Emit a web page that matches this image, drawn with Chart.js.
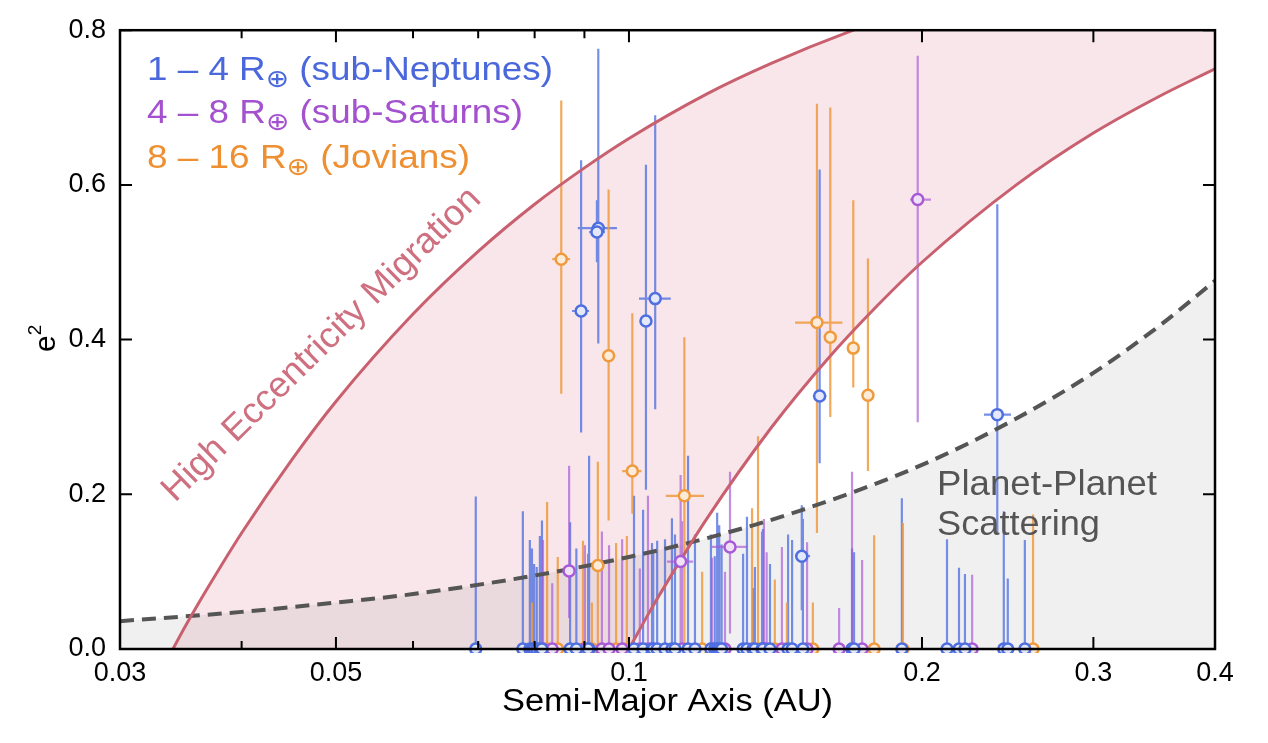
<!DOCTYPE html>
<html>
<head>
<meta charset="utf-8">
<script src="https://cdn.jsdelivr.net/npm/chart.js@4.4.1/dist/chart.umd.min.js"></script>
<style>
html, body { margin: 0; padding: 0; background: #fff; }
#wrap { width: 1268px; height: 743px; }
</style>
</head>
<body>
<div id="wrap"><canvas id="eccChart"></canvas></div>
<script>
// axis ticks
var xTickValues = [0.03, 0.04, 0.05, 0.06, 0.07, 0.08, 0.09, 0.1, 0.2, 0.3, 0.4];
var xTickLabels = ['0.03', '', '0.05', '', '', '', '', '0.1', '0.2', '0.3', '0.4'];
var yTickValues = [0, 0.2, 0.4, 0.6, 0.8];

// measured planets: [a, e2, e2 low, e2 high, a low, a high]
var subNeptunes = [
    [0.0893, 0.437, 0.280, 0.632, 0.0874, 0.0910],
    [0.0930, 0.544, 0.395, 0.776, 0.0886, 0.0972],
    [0.0927, 0.539, 0.500, 0.580, 0.0910, 0.0945],
    [0.1041, 0.424, 0.206, 0.626, 0.1030, 0.1052],
    [0.1064, 0.453, 0.310, 0.690, 0.1024, 0.1104],
    [0.1570, 0.327, 0.240, 0.620, 0.1545, 0.1595],
    [0.2390, 0.303, 0.150, 0.575, 0.2316, 0.2469],
    [0.1505, 0.120, 0.050, 0.186, 0.1481, 0.1535]
];
var subSaturns = [
    [0.1980, 0.581, 0.293, 0.767, 0.1944, 0.2043],
    [0.1270, 0.132, 0.020, 0.229, 0.1217, 0.1322],
    [0.1130, 0.113, 0.000, 0.225, 0.1094, 0.1164],
    [0.0868, 0.101, 0.040, 0.237, 0.0855, 0.0880]
];
var jovians = [
    [0.0852, 0.504, 0.330, 0.709, 0.0834, 0.0870],
    [0.0953, 0.379, 0.166, 0.594, 0.0940, 0.0966],
    [0.1008, 0.230, 0.175, 0.434, 0.0984, 0.1030],
    [0.1140, 0.198, 0.000, 0.403, 0.1091, 0.1194],
    [0.0929, 0.108, 0.000, 0.242, 0.0915, 0.0943],
    [0.1560, 0.422, 0.150, 0.705, 0.1481, 0.1657],
    [0.1610, 0.403, 0.300, 0.700, 0.1595, 0.1625],
    [0.1700, 0.389, 0.338, 0.580, 0.1685, 0.1715],
    [0.1760, 0.328, 0.230, 0.505, 0.1745, 0.1775]
];

// e2 consistent with zero: [a, e2 upper]
var subNeptuneLimits = [
    [0.0696, 0.197], [0.0778, 0.178], [0.0791, 0.141], [0.0795, 0.130], [0.0799, 0.110],
    [0.0804, 0.106], [0.0810, 0.146], [0.0814, 0.166], [0.0870, 0.164], [0.0883, 0.130],
    [0.0910, 0.250], [0.0908, 0.123], [0.1012, 0.198], [0.1034, 0.180], [0.1056, 0.137],
    [0.1059, 0.126], [0.1069, 0.140], [0.1089, 0.142], [0.1107, 0.169], [0.1115, 0.148],
    [0.1150, 0.250], [0.1169, 0.148], [0.1214, 0.148], [0.1225, 0.120], [0.1232, 0.176],
    [0.1238, 0.160], [0.1245, 0.135], [0.1310, 0.123], [0.1322, 0.171], [0.1341, 0.079],
    [0.1347, 0.106], [0.1370, 0.152], [0.1373, 0.155], [0.1396, 0.110], [0.1457, 0.148],
    [0.1471, 0.141], [0.1509, 0.168], [0.1695, 0.130], [0.1703, 0.125], [0.1907, 0.195],
    [0.2122, 0.142], [0.2183, 0.105], [0.2214, 0.097], [0.2427, 0.178], [0.2450, 0.091],
    [0.2551, 0.141]
];
var subSaturnLimits = [
    [0.0816, 0.141], [0.0834, 0.085], [0.0901, 0.134], [0.0938, 0.152], [0.0954, 0.134],
    [0.0984, 0.142], [0.1026, 0.104], [0.1046, 0.198], [0.1134, 0.165], [0.1217, 0.118],
    [0.1255, 0.100], [0.1376, 0.168], [0.1385, 0.125], [0.1436, 0.132], [0.1524, 0.138],
    [0.1644, 0.053], [0.1695, 0.229], [0.1736, 0.115], [0.2252, 0.096]
];
var jovianLimits = [
    [0.0795, 0.060], [0.0824, 0.190], [0.0845, 0.119], [0.0897, 0.140], [0.0916, 0.060],
    [0.0970, 0.137], [0.0995, 0.146], [0.1189, 0.100], [0.1338, 0.182], [0.1357, 0.275],
    [0.1412, 0.090], [0.1453, 0.060], [0.1545, 0.060], [0.1786, 0.147], [0.1912, 0.163],
    [0.2601, 0.174]
];

// boundary curves
var hemUpperA = [0.034, 0.035, 0.037, 0.04, 0.045, 0.05, 0.06, 0.07, 0.08, 0.09, 0.1, 0.12, 0.14, 0.17, 0.2, 0.3, 0.4];
var hemUpperE2 = [0, 0.029, 0.081, 0.15, 0.244, 0.32, 0.433, 0.514, 0.575, 0.622, 0.66, 0.717, 0.757, 0.80, 0.83, 0.887, 0.915];
var hemLowerA = [0.1, 0.105, 0.11, 0.12, 0.14, 0.16, 0.18, 0.2, 0.25, 0.3, 0.35, 0.4];
var hemLowerE2 = [0, 0.048, 0.091, 0.167, 0.286, 0.375, 0.444, 0.5, 0.6, 0.667, 0.714, 0.75];
var ppsA = [0.03, 0.04, 0.05, 0.06, 0.08, 0.1, 0.12, 0.15, 0.2, 0.25, 0.3, 0.35, 0.4];
var ppsE2 = [0.036, 0.048, 0.06, 0.071, 0.095, 0.119, 0.143, 0.179, 0.238, 0.298, 0.357, 0.417, 0.476];

var FONT = '"Liberation Sans", "DejaVu Sans", Arial, sans-serif';
var series = [
    { det: subNeptunes, lim: subNeptuneLimits, line: '#4f6fe0', fill: '#e3e8fb', bar: 'rgba(79,111,224,0.78)' },
    { det: subSaturns, lim: subSaturnLimits, line: '#a85ad6', fill: '#efe2f7', bar: 'rgba(168,90,214,0.68)' },
    { det: jovians, lim: jovianLimits, line: '#f09a3e', fill: '#fcebd8', bar: 'rgba(240,154,62,0.85)' }
];

function toXY(xs, ys) {
    return xs.map(function (v, i) { return { x: v, y: ys[i] }; });
}

function traceCurve(ctx, pts, reverse, move) {
    var list = reverse ? pts.slice().reverse() : pts;
    if (move) ctx.moveTo(list[0].x, list[0].y); else ctx.lineTo(list[0].x, list[0].y);
    for (var i = 1; i < list.length; i++) {
        var p = list[i - 1], t = list[i];
        if (!reverse) ctx.bezierCurveTo(p.cp2x, p.cp2y, t.cp1x, t.cp1y, t.x, t.y);
        else ctx.bezierCurveTo(p.cp1x, p.cp1y, t.cp2x, t.cp2y, t.x, t.y);
    }
}

// text runs: [text, size, dy]; optional total width
function drawRuns(ctx, runs, x, y, width) {
    var total = 0;
    runs.forEach(function (r) {
        ctx.font = r[1] + 'px ' + FONT;
        r.w = ctx.measureText(r[0]).width;
        total += r.w;
    });
    ctx.save();
    ctx.translate(x, y);
    if (width) ctx.scale(width / total, 1);
    var cx = 0;
    runs.forEach(function (r) {
        ctx.font = r[1] + 'px ' + FONT;
        ctx.fillText(r[0], cx, r[2]);
        cx += r.w;
    });
    ctx.restore();
}

var regionsPlugin = {
    id: 'regions',
    beforeDatasetsDraw: function (chart) {
        var ctx = chart.ctx, area = chart.chartArea;
        var xs = chart.scales.x, ys = chart.scales.y;
        var up = chart.getDatasetMeta(3).dataset;
        var lo = chart.getDatasetMeta(4).dataset;
        var pp = chart.getDatasetMeta(5).dataset;
        [up, lo, pp].forEach(function (l) { l.updateControlPoints(area, 'x'); });

        ctx.save();
        ctx.beginPath();
        ctx.rect(area.left, area.top, area.right - area.left, area.bottom - area.top);
        ctx.clip();

        ctx.beginPath();
        traceCurve(ctx, up.points, false, true);
        traceCurve(ctx, lo.points, true, false);
        ctx.closePath();
        ctx.fillStyle = 'rgba(205,80,105,0.14)';
        ctx.fill();

        var y0 = ys.getPixelForValue(0);
        ctx.beginPath();
        traceCurve(ctx, pp.points, false, true);
        ctx.lineTo(pp.points[pp.points.length - 1].x, y0);
        ctx.lineTo(pp.points[0].x, y0);
        ctx.closePath();
        ctx.fillStyle = 'rgba(0,0,0,0.06)';
        ctx.fill();

        // error bars
        ctx.lineWidth = 2.2;
        series.forEach(function (s) {
            ctx.strokeStyle = s.bar;
            ctx.beginPath();
            s.lim.forEach(function (p) {
                var px = xs.getPixelForValue(p[0]);
                ctx.moveTo(px, ys.getPixelForValue(0));
                ctx.lineTo(px, ys.getPixelForValue(p[1]));
            });
            s.det.forEach(function (p) {
                var px = xs.getPixelForValue(p[0]), py = ys.getPixelForValue(p[1]);
                ctx.moveTo(px, ys.getPixelForValue(p[2]));
                ctx.lineTo(px, ys.getPixelForValue(p[3]));
                ctx.moveTo(xs.getPixelForValue(p[4]), py);
                ctx.lineTo(xs.getPixelForValue(p[5]), py);
            });
            ctx.stroke();
        });
        ctx.restore();
    },
    afterDatasetsDraw: function (chart) {
        var ctx = chart.ctx, a = chart.chartArea;
        var xs = chart.scales.x, ys = chart.scales.y;
        ctx.save();
        ctx.strokeStyle = '#000';
        ctx.lineWidth = 2.5;
        ctx.strokeRect(a.left, a.top, a.right - a.left, a.bottom - a.top);
        ctx.lineWidth = 2;
        ctx.beginPath();
        xTickValues.forEach(function (v, i) {
            var px = xs.getPixelForValue(v), len = xTickLabels[i] ? 12 : 8;
            ctx.moveTo(px, a.bottom); ctx.lineTo(px, a.bottom - len);
            ctx.moveTo(px, a.top); ctx.lineTo(px, a.top + len);
        });
        yTickValues.forEach(function (v) {
            var py = ys.getPixelForValue(v);
            ctx.moveTo(a.left, py); ctx.lineTo(a.left + 12, py);
            ctx.moveTo(a.right, py); ctx.lineTo(a.right - 12, py);
        });
        ctx.stroke();
        ctx.restore();
    },
    afterDraw: function (chart) {
        var ctx = chart.ctx;
        ctx.save();
        ctx.textBaseline = 'alphabetic';
        ctx.textAlign = 'left';

        ctx.fillStyle = '#4a68dc';
        drawRuns(ctx, [['1 \u2013 4 R', 33, 0], ['\u2295', 25, 7], [' (sub-Neptunes)', 33, 0]], 147, 80, 406);
        ctx.fillStyle = '#a451cf';
        drawRuns(ctx, [['4 \u2013 8 R', 33, 0], ['\u2295', 25, 7], [' (sub-Saturns)', 33, 0]], 147, 123, 376);
        ctx.fillStyle = '#ee8f32';
        drawRuns(ctx, [['8 \u2013 16 R', 33, 0], ['\u2295', 25, 7], [' (Jovians)', 33, 0]], 147, 168, 323);

        ctx.fillStyle = '#555555';
        drawRuns(ctx, [['Planet-Planet', 35, 0]], 937, 495, 220);
        drawRuns(ctx, [['Scattering', 35, 0]], 937, 535, 163);

        ctx.fillStyle = '#000';
        drawRuns(ctx, [['Semi-Major Axis (AU)', 31, 0]], 502, 711, 331);

        ctx.save();
        ctx.translate(55, 352);
        ctx.rotate(-Math.PI / 2);
        drawRuns(ctx, [['e', 30, 0], ['2', 19, -14]], 0, 0);
        ctx.restore();

        ctx.save();
        ctx.translate(175, 503);
        ctx.rotate(-44.5 * Math.PI / 180);
        ctx.fillStyle = '#cf7080';
        drawRuns(ctx, [['High Eccentricity Migration', 36, 0]], 0, 0, 431);
        ctx.restore();

        ctx.restore();
    }
};

function markerSet(s) {
    return s.det.map(function (p) { return { x: p[0], y: p[1] }; })
        .concat(s.lim.map(function (p) { return { x: p[0], y: 0 }; }));
}

var datasets = series.map(function (s) {
    return {
        type: 'scatter',
        data: markerSet(s),
        pointRadius: 5.5,
        pointBorderWidth: 2.5,
        pointBorderColor: s.line,
        pointBackgroundColor: s.fill,
        clip: { left: 8, top: 8, right: 8, bottom: 4 }
    };
});
var curveBase = {
    type: 'scatter',
    showLine: true,
    pointRadius: 0,
    fill: false,
    cubicInterpolationMode: 'monotone',
    capBezierPoints: false
};
datasets.push(Object.assign({}, curveBase, { data: toXY(hemUpperA, hemUpperE2), borderColor: '#c9606f', borderWidth: 3 }));
datasets.push(Object.assign({}, curveBase, { data: toXY(hemLowerA, hemLowerE2), borderColor: '#c9606f', borderWidth: 3 }));
datasets.push(Object.assign({}, curveBase, { data: toXY(ppsA, ppsE2), borderColor: '#555555', borderWidth: 4, borderDash: [14, 8] }));

var ctx = document.getElementById('eccChart').getContext('2d');
var eccChart = new Chart(ctx, {
    type: 'scatter',
    data: { datasets: datasets },
    plugins: [regionsPlugin],
    options: {
        responsive: true,
        maintainAspectRatio: false,
        animation: false,
        events: [],
        layout: { padding: { top: 24, right: 53, left: 0, bottom: 0 } },
        plugins: {
            legend: { display: false },
            tooltip: { enabled: false }
        },
        scales: {
            x: {
                type: 'logarithmic',
                min: 0.03,
                max: 0.4,
                grid: { display: false, drawTicks: false },
                border: { display: false },
                afterBuildTicks: function (scale) {
                    scale.ticks = xTickValues.map(function (v) { return { value: v }; });
                },
                afterFit: function (scale) { scale.height = 94; },
                ticks: {
                    autoSkip: false,
                    maxRotation: 0,
                    minRotation: 0,
                    padding: 8,
                    color: '#000',
                    font: { family: FONT, size: 27 },
                    callback: function (value, index) { return xTickLabels[index]; }
                }
            },
            y: {
                min: 0,
                max: 0.8,
                grid: { display: false, drawTicks: false },
                border: { display: false },
                afterBuildTicks: function (scale) {
                    scale.ticks = yTickValues.map(function (v) { return { value: v }; });
                },
                afterFit: function (scale) { scale.width = 120; },
                ticks: {
                    padding: 14,
                    color: '#000',
                    font: { family: FONT, size: 27 },
                    callback: function (value) { return value.toFixed(1); }
                }
            }
        }
    }
});
</script>
</body>
</html>
